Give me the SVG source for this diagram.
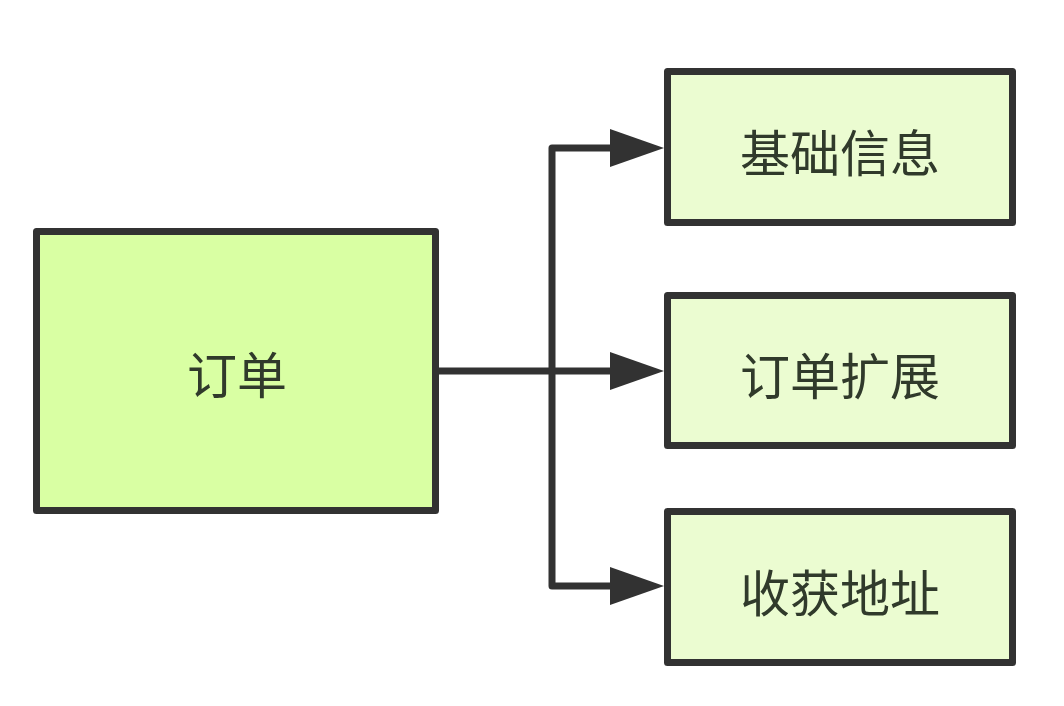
<svg xmlns="http://www.w3.org/2000/svg" width="1064" height="706" viewBox="0 0 1064 706">
<style>
.box{stroke:#323232;stroke-width:7;stroke-linejoin:round}
.main{fill:#d9ffa3}
.sub{fill:#ebfcd1}
.lbl{font-family:"Noto Sans CJK SC","Noto Sans",sans-serif;font-size:50px;fill:#303a2b;text-anchor:middle;dominant-baseline:central}
.conn{fill:none;stroke:#323232;stroke-width:7;stroke-linejoin:round}
.head{fill:#323232}
</style>
<rect width="1064" height="706" fill="#ffffff"/>
<g id="connectors">
<path class="conn" d="M439 371 H612"/>
<path class="conn" d="M612 148 H552 V586 H612"/>
<polygon class="head" points="610,129 664,148 610,167"/>
<polygon class="head" points="610,352 664,371 610,390"/>
<polygon class="head" points="610,567 664,586 610,605"/>
</g>
<g id="order">
<rect class="box main" x="36.5" y="231.5" width="399" height="279"/>
<text class="lbl" x="237" y="372">订单</text>
</g>
<g id="basic">
<rect class="box sub" x="667.5" y="71.5" width="345" height="151"/>
<text class="lbl" x="840" y="150">基础信息</text>
</g>
<g id="ext">
<rect class="box sub" x="667.5" y="295.5" width="345" height="150"/>
<text class="lbl" x="840" y="373">订单扩展</text>
</g>
<g id="addr">
<rect class="box sub" x="667.5" y="511.5" width="345" height="151"/>
<text class="lbl" x="840" y="590">收获地址</text>
</g>
</svg>
